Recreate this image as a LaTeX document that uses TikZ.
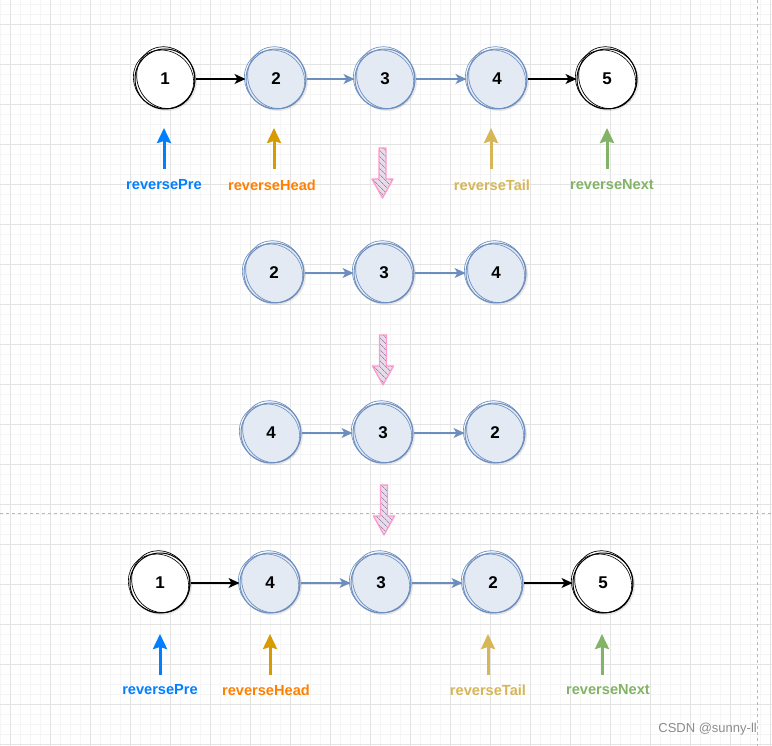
\documentclass[tikz,border=0pt]{standalone}
\usepackage{fontspec}
\setmainfont{Liberation Sans}
\usetikzlibrary{arrows.meta,shadows,patterns.meta}
\definecolor{nodeblue}{HTML}{6C8EBF}
\definecolor{nodefill}{HTML}{E4EAF4}
\definecolor{prec}{HTML}{007FFF}
\definecolor{headarr}{HTML}{D79B00}
\definecolor{headtxt}{HTML}{FF8000}
\definecolor{tailc}{HTML}{D6B656}
\definecolor{nextc}{HTML}{82B366}
\definecolor{pinkc}{HTML}{FF99CC}
\definecolor{pinkbg}{HTML}{E6DCEA}
\definecolor{pinkhatch}{HTML}{9C8AA8}
\definecolor{gridmin}{HTML}{F5F5F5}
\definecolor{gridmaj}{HTML}{E3E3E3}
\definecolor{dashc}{HTML}{B8B8B8}
\tikzset{
  llnode/.style={circle, minimum size=60pt, inner sep=0pt, line width=1pt,
    font=\fontsize{17}{17}\selectfont\bfseries,
    drop shadow={shadow xshift=2pt, shadow yshift=-2pt, opacity=0.18}},
  bnode/.style={llnode, draw=nodeblue, fill=nodefill},
  wnode/.style={llnode, draw=black, fill=white},
  link/.style={-{Stealth[length=11pt,width=10pt,inset=3pt]}, line width=1.2pt},
  uparr/.style={-{Stealth[length=15pt,width=14pt,inset=2pt]}, line width=3pt},
  lbl/.style={font=\fontsize{14.6}{15}\selectfont\bfseries, inner sep=0pt},
}
\newcommand\roughc[2]{%
  \draw[#2, line width=0.7pt, rotate around={25:(#1.center)}] ([shift={(1.2pt,0.9pt)}]#1.center) ellipse (28.5pt and 31.5pt);
  \draw[#2, line width=0.6pt, rotate around={-35:(#1.center)}] ([shift={(-1pt,-1.2pt)}]#1.center) ellipse (31pt and 28.5pt);
}
\newcommand\pinkarr[2]{%
  \fill[pinkbg] ({#1-3.5},#2) -- ({#1+3.5},#2) -- ({#1+3.5},{#2+31}) -- ({#1+10.5},{#2+31}) -- (#1,{#2+50}) -- ({#1-10.5},{#2+31}) -- ({#1-3.5},{#2+31}) -- cycle;
  \draw[pinkc, line width=1.3pt, pattern={Lines[angle=-45,distance=4pt,line width=0.8pt]}, pattern color=pinkhatch, line join=round]
    ({#1-3.5},#2) -- ({#1+3.5},#2) -- ({#1+3.5},{#2+31}) -- ({#1+10.5},{#2+31}) -- (#1,{#2+50}) -- ({#1-10.5},{#2+31}) -- ({#1-3.5},{#2+31}) -- cycle;
}
\begin{document}
\begin{tikzpicture}[x=1pt,y=-1pt]
\useasboundingbox (0,0) rectangle (772,746);
\fill[white] (0,0) rectangle (772,746);
% grid
\foreach \x in {0,10,...,770} \draw[gridmin, line width=0.6pt] (\x,0) -- (\x,746);
\foreach \y in {4,14,...,744} \draw[gridmin, line width=0.6pt] (0,\y) -- (772,\y);
\foreach \x in {10,50,...,770} \draw[gridmaj, line width=0.8pt] (\x,0) -- (\x,746);
\foreach \y in {24,64,...,744} \draw[gridmaj, line width=0.8pt] (0,\y) -- (772,\y);
\draw[dashc, dashed, line width=0.7pt] (0,513) -- (772,513);
\draw[dashc, dashed, line width=0.7pt] (757,0) -- (757,746);

% row 1
\node[wnode] (r1a) at (165,79) {1};
\node[bnode] (r1b) at (276,79) {2};
\node[bnode] (r1c) at (385,79) {3};
\node[bnode] (r1d) at (497,79) {4};
\node[wnode] (r1e) at (607,79) {5};
\roughc{r1a}{black}\roughc{r1b}{nodeblue}\roughc{r1c}{nodeblue}\roughc{r1d}{nodeblue}\roughc{r1e}{black}
\draw[link, black] (r1a) -- (r1b);
\draw[link, nodeblue] (r1b) -- (r1c);
\draw[link, nodeblue] (r1c) -- (r1d);
\draw[link, black] (r1d) -- (r1e);

\node[lbl, text=prec] (p1) at (164,185) {reversePre};
\node[lbl, text=headtxt] (h1) at (272,185) {reverseHead};
\node[lbl, text=tailc] (t1) at (492,185) {reverseTail};
\node[lbl, text=nextc] (n1) at (612,185) {reverseNext};
\coordinate (p1b) at (164,169); \coordinate (p1t) at (164,128);
\coordinate (h1b) at (274,169); \coordinate (h1t) at (274,128);
\coordinate (t1b) at (491,169); \coordinate (t1t) at (491,128);
\coordinate (n1b) at (607,169); \coordinate (n1t) at (607,128);
\draw[uparr, prec] (p1b) -- (p1t);
\draw[uparr, headarr] (h1b) -- (h1t);
\draw[uparr, tailc] (t1b) -- (t1t);
\draw[uparr, nextc] (n1b) -- (n1t);

\pinkarr{382.5}{148}

% row 2
\node[bnode] (r2a) at (274,273) {2};
\node[bnode] (r2b) at (384,273) {3};
\node[bnode] (r2c) at (496,273) {4};
\roughc{r2a}{nodeblue}\roughc{r2b}{nodeblue}\roughc{r2c}{nodeblue}
\draw[link, nodeblue] (r2a) -- (r2b);
\draw[link, nodeblue] (r2b) -- (r2c);

\pinkarr{383}{335}

% row 3
\node[bnode] (r3a) at (271,433) {4};
\node[bnode] (r3b) at (383,433) {3};
\node[bnode] (r3c) at (495,433) {2};
\roughc{r3a}{nodeblue}\roughc{r3b}{nodeblue}\roughc{r3c}{nodeblue}
\draw[link, nodeblue] (r3a) -- (r3b);
\draw[link, nodeblue] (r3b) -- (r3c);

\pinkarr{384}{485}

% row 4
\node[wnode] (r4a) at (160,583) {1};
\node[bnode] (r4b) at (270,583) {4};
\node[bnode] (r4c) at (381,583) {3};
\node[bnode] (r4d) at (493,583) {2};
\node[wnode] (r4e) at (603,583) {5};
\roughc{r4a}{black}\roughc{r4b}{nodeblue}\roughc{r4c}{nodeblue}\roughc{r4d}{nodeblue}\roughc{r4e}{black}
\draw[link, black] (r4a) -- (r4b);
\draw[link, nodeblue] (r4b) -- (r4c);
\draw[link, nodeblue] (r4c) -- (r4d);
\draw[link, black] (r4d) -- (r4e);

\node[lbl, text=prec] (p4) at (160,690) {reversePre};
\node[lbl, text=headtxt] (h4) at (266,690) {reverseHead};
\node[lbl, text=tailc] (t4) at (488,690) {reverseTail};
\node[lbl, text=nextc] (n4) at (608,690) {reverseNext};
\coordinate (p4b) at (160,675); \coordinate (p4t) at (160,634);
\coordinate (h4b) at (270,675); \coordinate (h4t) at (270,634);
\coordinate (t4b) at (488,675); \coordinate (t4t) at (488,634);
\coordinate (n4b) at (602,675); \coordinate (n4t) at (602,634);
\draw[uparr, prec] (p4b) -- (p4t);
\draw[uparr, headarr] (h4b) -- (h4t);
\draw[uparr, tailc] (t4b) -- (t4t);
\draw[uparr, nextc] (n4b) -- (n4t);

\node[anchor=east, inner sep=0pt, text=black!45, font=\fontsize{13}{13}\selectfont] (wm) at (757,729) {CSDN @sunny-ll};
\end{tikzpicture}
\end{document}
